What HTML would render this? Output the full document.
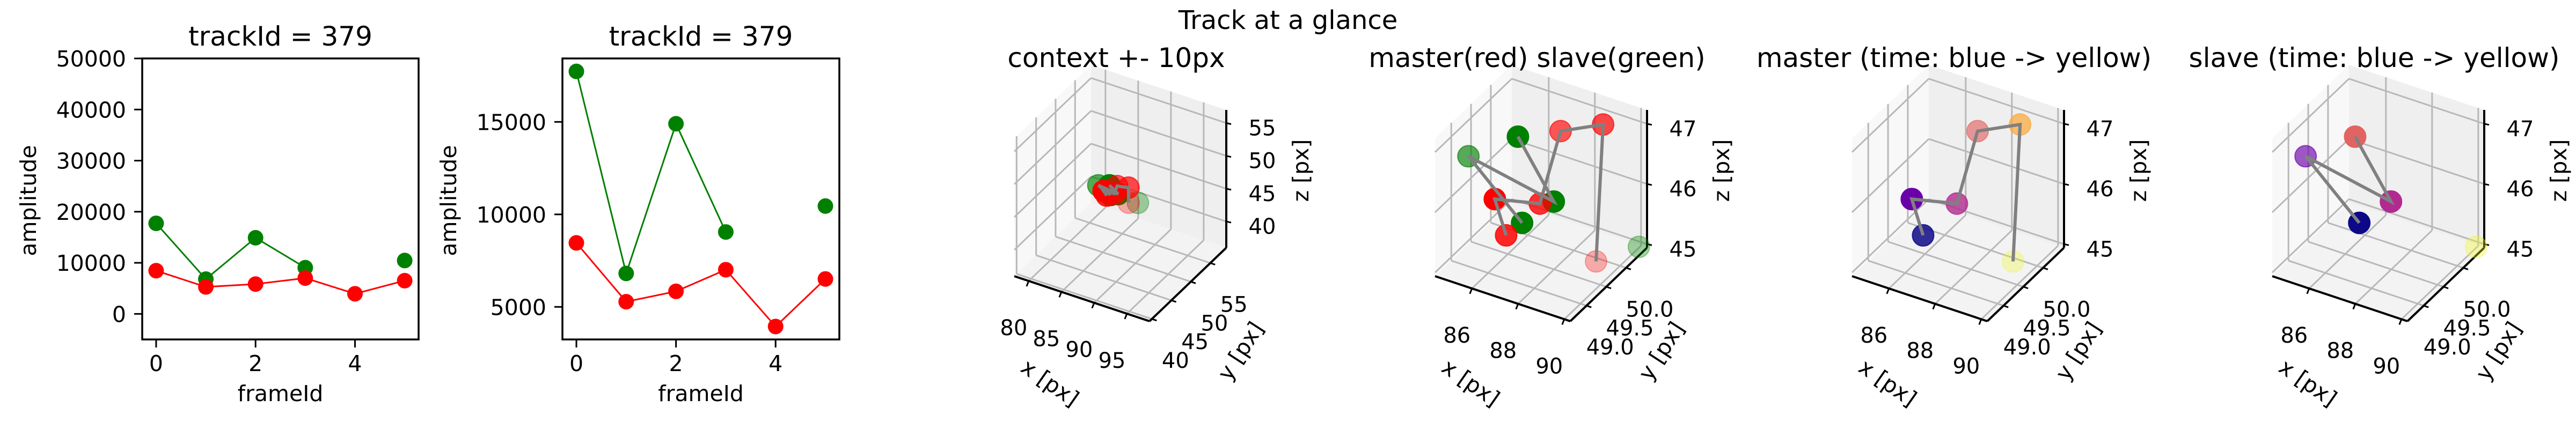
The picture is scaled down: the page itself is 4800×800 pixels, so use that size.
<!DOCTYPE html>
<html><head><meta charset="utf-8"><title>Track at a glance</title>
<style>
html,body{margin:0;padding:0;background:#fff;}
svg{display:block;font-family:"DejaVu Sans","Liberation Sans",sans-serif;}
</style></head>
<body>
<svg id="fig" width="4800" height="800" viewBox="0 0 4800 800" xmlns="http://www.w3.org/2000/svg">
<rect width="4800" height="800" fill="#fff"/>
<text x="2400" y="54" font-size="48" text-anchor="middle">Track at a glance</text>
</svg>
<script>
// ---- 2D amplitude data ----
const frames = [0, 1, 2, 3, 4, 5];
const masterAmp = [8460, 5280, 5840, 7010, 3940, 6510];
const slaveAmp = [17730, 6810, 14900, 9050, null, 10450];
const xTicks2d = [0, 2, 4];
const yTicksA = [0, 10000, 20000, 30000, 40000, 50000];
const yTicksB = [5000, 10000, 15000];
// ---- 3D track data ----
const masterX = [85.92, 85.43, 86.87, 87.08, 88.75, 88.96];
const masterY = [49.5, 49.5, 49.8, 50.2, 50.3, 50.0];
const masterZ = [45.24, 45.78, 45.70, 46.68, 46.94, 44.88];
const slaveFrames = [0, 1, 2, 3, 5];
const slaveX = [86.44, 84.80, 87.47, 86.26, 90.13];
const slaveY = [49.6, 49.2, 49.8, 49.6, 50.4];
const slaveZ = [45.45, 46.60, 45.81, 46.86, 45.02];
const ctxTicks = [80, 85, 90, 95];
const ctxYTicks = [40, 45, 50, 55];
const ctxZTicks = [40, 45, 50, 55];
const zoomXTicks = [86, 88, 90];
const zoomYTicks = [49.0, 49.5, 50.0];
const zoomZTicks = [45, 46, 47];
const masterAlpha = [0.85, 1, 0.8, 0.65, 0.7, 0.3];
const slaveAlpha = [1, 0.65, 1, 1, 0.35];
const plasma = ['#0d0887', '#6a00a8', '#b12a90', '#e16462', '#fca636', '#f0f921'];

const NS = 'http://www.w3.org/2000/svg';
const svg = document.getElementById('fig');
function mk(tag, attrs, parent) {
  const e = document.createElementNS(NS, tag);
  for (const k in attrs) e.setAttribute(k, attrs[k]);
  (parent || svg).appendChild(e);
  return e;
}
function txt(s, attrs, parent) { const t = mk('text', attrs, parent); t.textContent = s; return t; }

// ---------- 2D panels ----------
function panel2d(L, R, T, B, ymin, ymax, yTicks, name) {
  const g = mk('g', {});
  
  
  const xs = v => L + (v - (-0.28)) / (5.56) * (R - L);
  const ys = v => B - (v - ymin) / (ymax - ymin) * (B - T);
  let segs = [[]];
  frames.forEach((f, i) => { if (slaveAmp[i] == null) segs.push([]); else segs[segs.length - 1].push([xs(f), ys(slaveAmp[i])]); });
  segs.forEach(s => { if (s.length > 1) { const p = mk('polyline', { points: s.map(q => q.join(',')).join(' '), fill: 'none', stroke: '#008000', 'stroke-width': 3 }, g);
      } });
  const mp = mk('polyline', { points: frames.map((f, i) => xs(f) + ',' + ys(masterAmp[i])).join(' '), fill: 'none', stroke: '#ff0000', 'stroke-width': 3 }, g);
   
  frames.forEach((f, i) => {
    if (slaveAmp[i] != null) {
      const c = mk('circle', { cx: xs(f), cy: ys(slaveAmp[i]), r: 14.5, fill: '#008000' }, g);
       
    }
  });
  frames.forEach((f, i) => {
    const c = mk('circle', { cx: xs(f), cy: ys(masterAmp[i]), r: 14.5, fill: '#ff0000' }, g);
     
  });
  const fr = mk('rect', { x: L, y: T, width: R - L, height: B - T, fill: 'none', stroke: '#000', 'stroke-width': 3.5 }, g);
   
  xTicks2d.forEach(v => {
    mk('line', { x1: xs(v), x2: xs(v), y1: B, y2: B + 15, stroke: '#000', 'stroke-width': 3 }, g);
    const t = txt(String(v), { x: xs(v), y: 692, 'font-size': 41, 'text-anchor': 'middle' }, g);
     
  });
  yTicks.forEach(v => {
    mk('line', { x1: L - 15, x2: L, y1: ys(v), y2: ys(v), stroke: '#000', 'stroke-width': 3 }, g);
    const t = txt(String(v), { x: L - 30, y: ys(v) + 15, 'font-size': 41, 'text-anchor': 'end' }, g);
     
  });
  const xl = txt('frameId', { x: (L + R) / 2, y: 748, 'font-size': 41, 'text-anchor': 'middle' }, g);
   
  const yx = L - 198;
  const yl = txt('amplitude', { x: yx, y: 374, 'font-size': 41, 'text-anchor': 'middle', transform: `rotate(-90 ${yx} 374)` }, g);
   
  const ti = txt('trackId = 379', { x: (L + R) / 2, y: 85, 'font-size': 50, 'text-anchor': 'middle' }, g);
   
}
panel2d(265, 780, 109, 633, -5000, 50000, yTicksA, 'amplitude-panel-full');
panel2d(1048, 1564, 109, 633, 3240, 18430, yTicksB, 'amplitude-panel-zoom');

// ---------- 3D panels ----------
const EX = [252, 84], EY = [143, -137], EZ = [0, -257];
function panel3d(ox, lims, ticks, title, name, mode) {
  const g = mk('g', {});
  
  
  const [xl, yl, zl] = lims;
  const P = (x, y, z) => {
    const fx = (x - xl[0]) / (xl[1] - xl[0]), fy = (y - yl[0]) / (yl[1] - yl[0]), fz = (z - zl[0]) / (zl[1] - zl[0]);
    return [ox + fx * EX[0] + fy * EY[0] + fz * EZ[0], 515 + fx * EX[1] + fy * EY[1] + fz * EZ[1]];
  };
  const poly = (pts, fill, nm) => { const p = mk('polygon', { points: pts.map(q => q.join(',')).join(' '), fill: fill, stroke: 'none' }, g);
      };
  const X0 = xl[0], X1 = xl[1], Y0 = yl[0], Y1 = yl[1], Z0 = zl[0], Z1 = zl[1];
  poly([P(X0, Y0, Z0), P(X0, Y1, Z0), P(X0, Y1, Z1), P(X0, Y0, Z1)], '#f8f8f8', 'left-pane');
  poly([P(X0, Y1, Z0), P(X1, Y1, Z0), P(X1, Y1, Z1), P(X0, Y1, Z1)], '#efefef', 'back-pane');
  poly([P(X0, Y0, Z0), P(X1, Y0, Z0), P(X1, Y1, Z0), P(X0, Y1, Z0)], '#f3f3f3', 'floor-pane');
  const ln = (a, b, col, w) => mk('line', { x1: a[0], y1: a[1], x2: b[0], y2: b[1], stroke: col, 'stroke-width': w }, g);
  const gc = '#b8b8b8';
  ticks[0].forEach(v => { ln(P(v, Y0, Z0), P(v, Y1, Z0), gc, 3); ln(P(v, Y1, Z0), P(v, Y1, Z1), gc, 3); });
  ticks[1].forEach(v => { ln(P(X0, v, Z0), P(X1, v, Z0), gc, 3); ln(P(X0, v, Z0), P(X0, v, Z1), gc, 3); });
  ticks[2].forEach(v => { ln(P(X0, Y0, v), P(X0, Y1, v), gc, 3); ln(P(X0, Y1, v), P(X1, Y1, v), gc, 3); });
  const ax1 = ln(P(X0, Y0, Z0), P(X1, Y0, Z0), '#000', 4);  
  const ax2 = ln(P(X1, Y0, Z0), P(X1, Y1, Z0), '#000', 4);  
  const ax3 = ln(P(X1, Y1, Z0), P(X1, Y1, Z1), '#000', 4);  
  ticks[0].forEach(v => { const p = P(v, Y0, Z0); ln(p, [p[0] - 4, p[1] + 10], '#000', 3);
    const t = txt(String(v), { x: p[0] - 28, y: p[1] + 101, 'font-size': 40, 'text-anchor': 'middle' }, g);
      });
  ticks[1].forEach(v => { const p = P(X1, v, Z0); ln(p, [p[0] + 9, p[1] + 3], '#000', 3);
    const t = txt(mode === 0 ? String(v) : v.toFixed(1), { x: p[0] + 44, y: p[1] + 91, 'font-size': 40, 'text-anchor': 'middle' }, g);
      });
  ticks[2].forEach(v => { const p = P(X1, Y1, v); ln(p, [p[0] + 9, p[1] + 2], '#000', 3);
    const t = txt(String(v), { x: p[0] + 67, y: p[1] + 23, 'font-size': 40, 'text-anchor': 'middle' }, g);
      });
  const xt = txt('x [px]', { x: ox + 67, y: 728, 'font-size': 41, 'text-anchor': 'middle', transform: `rotate(35 ${ox + 67} 713)` }, g);
   
  const yt = txt('y [px]', { x: ox + 421, y: 669, 'font-size': 41, 'text-anchor': 'middle', transform: `rotate(-57 ${ox + 421} 654)` }, g);
   
  const zx = ox + 534;
  const zt = txt('z [px]', { x: zx, y: 318, 'font-size': 41, 'text-anchor': 'middle', 'dominant-baseline': 'central', transform: `rotate(-90 ${zx} 318)` }, g);
   
  const ti = txt(title, { x: ox + 190, y: 125, 'font-size': 50, 'text-anchor': 'middle' }, g);
   

  const showM = mode !== 3, showS = mode !== 2;
  if (showS) slaveFrames.forEach((f, i) => {
    const p = P(slaveX[i], slaveY[i], slaveZ[i]);
    const col = mode === 3 ? plasma[f] : '#008000';
    const c = mk('circle', { cx: p[0], cy: p[1], r: 20, fill: col, 'fill-opacity': slaveAlpha[i], stroke: col, 'stroke-opacity': slaveAlpha[i], 'stroke-width': 2 }, g);
     
  });
  if (showM) frames.forEach((f, i) => {
    const p = P(masterX[i], masterY[i], masterZ[i]);
    const col = mode === 2 ? plasma[f] : '#ff0000';
    const c = mk('circle', { cx: p[0], cy: p[1], r: 20, fill: col, 'fill-opacity': masterAlpha[i], stroke: col, 'stroke-opacity': masterAlpha[i], 'stroke-width': 2 }, g);
     
  });
  if (showM) {
    const pl = mk('polyline', { points: frames.map((f, i) => P(masterX[i], masterY[i], masterZ[i]).join(',')).join(' '), fill: 'none', stroke: '#808080', 'stroke-width': 6 }, g);
     
  }
  if (showS) {
    const pts = [];
    slaveFrames.forEach((f, i) => { if (i === 0 || slaveFrames[i - 1] === f - 1) pts.push(P(slaveX[i], slaveY[i], slaveZ[i]).join(',')); });
    const pl = mk('polyline', { points: pts.join(' '), fill: 'none', stroke: '#808080', 'stroke-width': 6 }, g);
     
  }
}
const ctxLims = [[77.8, 98.45], [39.4, 59.1], [36, 57]];
const zoomLims = [[84.4, 90.26], [48.59, 50.53], [44.94, 47.23]];
panel3d(1890, ctxLims, [ctxTicks, ctxYTicks, ctxZTicks], 'context +- 10px', 'context-3d-panel', 0);
panel3d(2674, zoomLims, [zoomXTicks, zoomYTicks, zoomZTicks], 'master(red) slave(green)', 'master-slave-3d-panel', 1);
panel3d(3451, zoomLims, [zoomXTicks, zoomYTicks, zoomZTicks], 'master (time: blue -> yellow)', 'master-time-3d-panel', 2);
panel3d(4234, zoomLims, [zoomXTicks, zoomYTicks, zoomZTicks], 'slave (time: blue -> yellow)', 'slave-time-3d-panel', 3);
</script>
</body></html>
